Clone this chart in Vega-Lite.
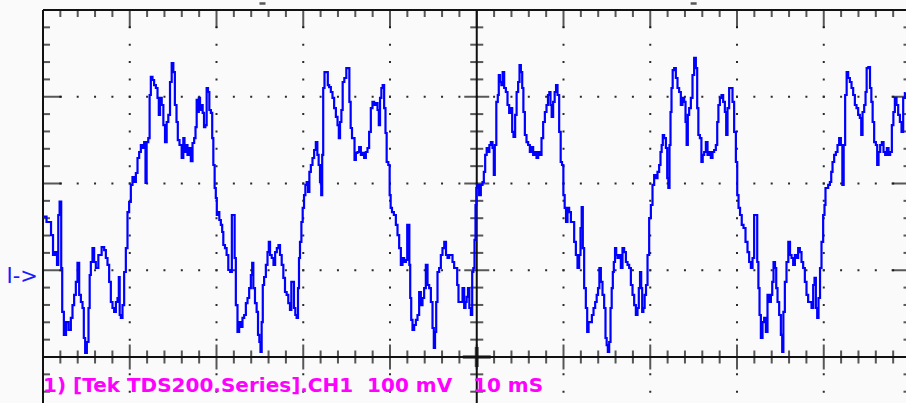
{
  "$schema": "https://vega.github.io/schema/vega-lite/v6.json",
  "width": 863,
  "height": 393,
  "autosize": "none",
  "padding": {"left": 43, "top": 10, "right": 0, "bottom": 0},
  "background": "#fafafa",
  "config": {"view": {"stroke": null}},
  "datasets": {
    "xmin": [{"t":2},{"t":4},{"t":6},{"t":8},{"t":12},{"t":14},{"t":16},{"t":18},{"t":22},{"t":24},{"t":26},{"t":28},{"t":32},{"t":34},{"t":36},{"t":38},{"t":42},{"t":44},{"t":46},{"t":48},{"t":52},{"t":54},{"t":56},{"t":58},{"t":62},{"t":64},{"t":66},{"t":68},{"t":72},{"t":74},{"t":76},{"t":78},{"t":82},{"t":84},{"t":86},{"t":88},{"t":92},{"t":94},{"t":96},{"t":98}],
    "xmaj": [{"t":10},{"t":20},{"t":30},{"t":40},{"t":50},{"t":60},{"t":70},{"t":80},{"t":90}],
    "ymin": [{"v":-40},{"v":-20},{"v":20},{"v":40},{"v":60},{"v":80},{"v":120},{"v":140},{"v":160},{"v":180},{"v":220},{"v":240},{"v":260},{"v":280},{"v":320},{"v":340},{"v":360},{"v":380}],
    "ymaj": [{"v":0},{"v":100},{"v":200},{"v":300}],
    "vgrid": [{"t":10},{"t":20},{"t":30},{"t":40},{"t":60},{"t":70},{"t":80},{"t":90}],
    "hgrid": [{"v":100},{"v":200},{"v":300}],
    "vsolid": [{"t":0},{"t":50}],
    "hsolid": [{"v":0},{"v":400}],
    "center": [{"t":50,"v":0}],
    "trig": [{"t":25.3},{"t":75.0}],
    "label": [{"text":"1) [Tek TDS200.Series].CH1\u00a0\u00a0100 mV\u00a0\u00a0\u00a010 mS"}],
    "ref": [{"text":"I->"}],
    "wave": [
      {"t":0.0,"v":161.7},{"t":0.81,"v":155.6},{"t":1.04,"v":140.6},{"t":1.27,"v":117.6},{"t":1.50,"v":121.0},{"t":1.73,"v":106.1},{"t":1.79,"v":163.7},{"t":2.04,"v":179.0},{"t":2.16,"v":102.6},{"t":2.27,"v":51.9},{"t":2.54,"v":25.4},{"t":2.77,"v":40.3},{"t":3.11,"v":31.1},{"t":3.31,"v":45.0},{"t":3.49,"v":59.9},{"t":3.69,"v":71.5},{"t":3.88,"v":86.5},{"t":4.07,"v":108.4},{"t":4.27,"v":71.5},{"t":4.46,"v":63.4},{"t":4.65,"v":56.5},{"t":4.76,"v":21.9},{"t":4.96,"v":4.6},{"t":5.15,"v":17.3},{"t":5.34,"v":56.5},{"t":5.42,"v":94.5},{"t":5.61,"v":109.5},{"t":5.80,"v":125.6},{"t":5.99,"v":109.5},{"t":6.19,"v":102.6},{"t":6.57,"v":117.6},{"t":6.95,"v":126.8},{"t":7.15,"v":123.3},{"t":7.34,"v":114.1},{"t":7.53,"v":106.1},{"t":7.72,"v":86.5},{"t":7.92,"v":63.4},{"t":8.10,"v":56.5},{"t":8.30,"v":51.9},{"t":8.50,"v":63.4},{"t":8.68,"v":68.0},{"t":8.80,"v":92.2},{"t":8.88,"v":48.4},{"t":9.07,"v":45.0},{"t":9.26,"v":59.9},{"t":9.45,"v":98.0},{"t":9.65,"v":125.6},{"t":9.83,"v":167.1},{"t":10.03,"v":178.7},{"t":10.22,"v":198.3},{"t":10.41,"v":207.5},{"t":10.61,"v":201.7},{"t":10.80,"v":212.1},{"t":10.99,"v":229.4},{"t":11.18,"v":236.3},{"t":11.38,"v":244.4},{"t":11.56,"v":240.9},{"t":11.76,"v":247.8},{"t":11.87,"v":200.6},{"t":12.02,"v":247.8},{"t":12.25,"v":252.4},{"t":12.33,"v":302.0},{"t":12.53,"v":322.8},{"t":12.71,"v":319.3},{"t":12.91,"v":313.5},{"t":13.11,"v":310.1},{"t":13.29,"v":298.6},{"t":13.41,"v":279.0},{"t":13.57,"v":298.6},{"t":13.80,"v":290.5},{"t":13.95,"v":267.4},{"t":14.18,"v":247.8},{"t":14.33,"v":270.9},{"t":14.56,"v":279.0},{"t":14.72,"v":317.0},{"t":14.95,"v":338.9},{"t":15.10,"v":328.5},{"t":15.30,"v":290.5},{"t":15.48,"v":270.9},{"t":15.60,"v":250.1},{"t":15.87,"v":244.4},{"t":16.10,"v":229.4},{"t":16.25,"v":252.4},
      {"t":16.37,"v":236.3},{"t":16.56,"v":244.4},{"t":16.75,"v":232.9},{"t":16.94,"v":240.9},{"t":17.14,"v":225.9},{"t":17.33,"v":246.7},{"t":17.52,"v":252.4},{"t":17.64,"v":265.1},{"t":17.79,"v":296.3},{"t":17.90,"v":282.4},{"t":18.02,"v":298.6},{"t":18.18,"v":284.7},{"t":18.33,"v":290.5},{"t":18.48,"v":281.3},{"t":18.64,"v":265.1},{"t":18.79,"v":267.4},{"t":18.94,"v":310.1},{"t":19.10,"v":305.5},{"t":19.25,"v":284.7},{"t":19.45,"v":281.3},{"t":19.56,"v":252.4},{"t":19.71,"v":221.3},{"t":19.86,"v":194.8},{"t":19.98,"v":183.3},{"t":20.09,"v":163.7},{"t":20.25,"v":167.1},{"t":20.40,"v":157.9},{"t":20.60,"v":152.2},{"t":20.71,"v":144.1},{"t":20.86,"v":129.1},{"t":21.09,"v":125.6},{"t":21.24,"v":117.6},{"t":21.48,"v":100.3},{"t":21.67,"v":98.0},{"t":21.87,"v":163.7},{"t":22.05,"v":163.7},{"t":22.13,"v":114.1},{"t":22.33,"v":59.9},{"t":22.51,"v":28.8},{"t":22.71,"v":40.3},{"t":22.90,"v":34.6},{"t":23.09,"v":45.0},{"t":23.29,"v":48.4},{"t":23.48,"v":62.2},{"t":23.67,"v":68.0},{"t":23.86,"v":79.5},{"t":24.06,"v":94.5},{"t":24.17,"v":108.4},{"t":24.32,"v":79.5},{"t":24.55,"v":62.2},{"t":24.70,"v":51.9},{"t":24.87,"v":25.4},{"t":25.01,"v":17.3},{"t":25.13,"v":5.8},{"t":25.28,"v":40.3},{"t":25.39,"v":83.0},{"t":25.59,"v":92.2},{"t":25.79,"v":106.1},{"t":25.97,"v":121.0},{"t":26.09,"v":132.6},{"t":26.25,"v":117.6},{"t":26.48,"v":114.1},{"t":26.66,"v":106.1},{"t":26.86,"v":121.0},{"t":27.05,"v":125.6},{"t":27.24,"v":129.1},{"t":27.40,"v":117.6},{"t":27.63,"v":106.1},{"t":27.78,"v":91.1},{"t":28.01,"v":74.9},{"t":28.16,"v":71.5},{"t":28.39,"v":62.2},{"t":28.55,"v":54.2},{"t":28.70,"v":86.5},{"t":28.85,"v":86.5},{"t":29.01,"v":56.5},{"t":29.16,"v":48.4},{"t":29.31,"v":45.0},{"t":29.48,"v":79.5},{"t":29.54,"v":114.1},{"t":29.71,"v":132.6},{"t":29.86,"v":155.6},{"t":30.01,"v":171.8},{"t":30.17,"v":186.7},{"t":30.32,"v":198.3},{"t":30.47,"v":201.7},{"t":30.63,"v":190.2},{"t":30.78,"v":213.3},{"t":30.97,"v":221.3},{"t":31.16,"v":229.4},{"t":31.35,"v":238.6},{"t":31.55,"v":247.8},{"t":31.70,"v":232.9},{"t":31.85,"v":221.3},{"t":32.01,"v":201.7},{"t":32.13,"v":186.7},{"t":32.24,"v":232.9},{"t":32.36,"v":310.1},
      {"t":32.54,"v":328.5},{"t":32.77,"v":328.5},{"t":32.89,"v":313.5},{"t":33.08,"v":311.2},{"t":33.28,"v":305.5},{"t":33.46,"v":298.6},{"t":33.66,"v":287.0},{"t":33.86,"v":276.7},{"t":34.04,"v":267.4},{"t":34.16,"v":252.4},{"t":34.32,"v":270.9},{"t":34.47,"v":284.7},{"t":34.62,"v":317.0},{"t":34.85,"v":321.6},{"t":35.08,"v":333.1},{"t":35.24,"v":333.1},{"t":35.39,"v":294.0},{"t":35.54,"v":264.0},{"t":35.70,"v":252.4},{"t":35.85,"v":252.4},{"t":35.97,"v":227.1},{"t":36.16,"v":235.2},{"t":36.35,"v":236.3},{"t":36.54,"v":242.1},{"t":36.74,"v":232.9},{"t":36.92,"v":235.2},{"t":37.12,"v":229.4},{"t":37.31,"v":236.3},{"t":37.50,"v":240.9},{"t":37.69,"v":259.4},{"t":37.89,"v":287.0},{"t":38.07,"v":294.0},{"t":38.27,"v":290.5},{"t":38.47,"v":292.8},{"t":38.65,"v":284.7},{"t":38.77,"v":267.4},{"t":38.93,"v":298.6},{"t":39.08,"v":310.1},{"t":39.23,"v":313.5},{"t":39.42,"v":287.0},{"t":39.54,"v":258.2},{"t":39.69,"v":224.8},{"t":39.92,"v":221.3},{"t":40.00,"v":186.7},{"t":40.15,"v":171.8},{"t":40.31,"v":167.1},{"t":40.58,"v":163.7},{"t":40.77,"v":152.2},{"t":40.96,"v":140.6},{"t":41.15,"v":125.6},{"t":41.35,"v":106.1},{"t":41.53,"v":114.1},{"t":41.73,"v":109.5},{"t":41.93,"v":111.8},{"t":42.04,"v":152.2},{"t":42.19,"v":152.2},{"t":42.27,"v":106.1},{"t":42.39,"v":68.0},{"t":42.50,"v":42.7},{"t":42.69,"v":31.1},{"t":42.88,"v":36.9},{"t":43.08,"v":42.7},{"t":43.26,"v":48.4},{"t":43.46,"v":74.9},{"t":43.65,"v":59.9},{"t":43.84,"v":68.0},{"t":44.03,"v":79.5},{"t":44.23,"v":106.1},{"t":44.42,"v":83.0},{"t":44.61,"v":79.5},{"t":44.81,"v":63.4},{"t":44.99,"v":33.4},{"t":45.11,"v":10.4},{"t":45.27,"v":28.8},{"t":45.38,"v":63.4},{"t":45.57,"v":98.0},{"t":45.76,"v":102.6},{"t":45.96,"v":117.6},{"t":46.14,"v":125.6},{"t":46.37,"v":132.6},{"t":46.54,"v":117.6},{"t":46.72,"v":114.1},{"t":46.92,"v":117.6},{"t":47.11,"v":117.6},{"t":47.30,"v":109.5},{"t":47.49,"v":102.6},{"t":47.69,"v":102.6},{"t":47.80,"v":83.0},{"t":47.99,"v":63.4},{"t":48.27,"v":63.4},{"t":48.45,"v":79.5},{"t":48.65,"v":56.5},
      {"t":48.76,"v":63.4},{"t":48.91,"v":69.2},{"t":49.07,"v":79.5},{"t":49.22,"v":56.5},{"t":49.42,"v":48.4},{"t":49.53,"v":98.0},{"t":49.68,"v":102.6},{"t":49.80,"v":134.9},{"t":49.91,"v":175.2},{"t":49.99,"v":194.8},{"t":50.18,"v":198.3},{"t":50.37,"v":186.7},{"t":50.57,"v":198.3},{"t":50.76,"v":201.7},{"t":50.87,"v":213.3},{"t":51.07,"v":232.9},{"t":51.22,"v":240.9},{"t":51.38,"v":236.3},{"t":51.53,"v":244.4},{"t":51.72,"v":247.8},{"t":51.91,"v":240.9},{"t":52.02,"v":209.8},{"t":52.14,"v":244.4},{"t":52.37,"v":294.0},{"t":52.48,"v":302.0},{"t":52.60,"v":325.1},{"t":52.76,"v":317.0},{"t":52.91,"v":313.5},{"t":53.06,"v":328.5},{"t":53.26,"v":310.1},{"t":53.45,"v":305.5},{"t":53.64,"v":290.5},{"t":53.83,"v":281.3},{"t":54.03,"v":287.0},{"t":54.14,"v":259.4},{"t":54.33,"v":253.6},{"t":54.52,"v":279.0},{"t":54.67,"v":305.5},{"t":54.87,"v":317.0},{"t":54.99,"v":336.6},{"t":55.18,"v":328.5},{"t":55.30,"v":310.1},{"t":55.45,"v":282.4},{"t":55.64,"v":255.9},{"t":55.83,"v":247.8},{"t":56.02,"v":244.4},{"t":56.22,"v":236.3},{"t":56.40,"v":242.1},{"t":56.60,"v":232.9},{"t":56.80,"v":236.3},{"t":56.98,"v":229.4},{"t":57.18,"v":236.3},{"t":57.37,"v":232.9},{"t":57.56,"v":252.4},{"t":57.75,"v":270.9},{"t":57.95,"v":282.4},{"t":58.13,"v":290.5},{"t":58.29,"v":302.0},{"t":58.44,"v":305.5},{"t":58.56,"v":290.5},{"t":58.71,"v":276.7},{"t":58.90,"v":294.0},{"t":59.06,"v":305.5},{"t":59.22,"v":313.5},{"t":59.40,"v":302.0},{"t":59.60,"v":259.4},{"t":59.75,"v":224.8},{"t":59.91,"v":221.3},{"t":60.06,"v":186.7},{"t":60.21,"v":171.8},{"t":60.37,"v":155.6},{"t":60.55,"v":171.8},{"t":60.75,"v":167.1},{"t":60.95,"v":155.6},{"t":61.13,"v":155.6},{"t":61.33,"v":132.6},{"t":61.52,"v":117.6},{"t":61.71,"v":102.6},{"t":61.90,"v":117.6},{"t":62.02,"v":148.7},{"t":62.17,"v":172.9},{"t":62.28,"v":125.6},{"t":62.48,"v":79.5},{"t":62.67,"v":56.5},{"t":62.79,"v":28.8},{"t":62.98,"v":40.3},{"t":63.17,"v":40.3},{"t":63.37,"v":48.4},{"t":63.55,"v":56.5},{"t":63.75,"v":63.4},{"t":63.90,"v":71.5},{"t":64.06,"v":79.5},{"t":64.21,"v":102.6},{"t":64.40,"v":86.5},{"t":64.59,"v":71.5},{"t":64.78,"v":56.5},
      {"t":64.90,"v":21.9},{"t":65.05,"v":13.8},{"t":65.17,"v":5.8},{"t":65.36,"v":17.3},{"t":65.48,"v":56.5},{"t":65.63,"v":79.5},{"t":65.74,"v":98.0},{"t":65.86,"v":109.5},{"t":66.02,"v":125.6},{"t":66.13,"v":117.6},{"t":66.32,"v":114.1},{"t":66.51,"v":117.6},{"t":66.71,"v":102.6},{"t":66.89,"v":125.6},{"t":67.09,"v":121.0},{"t":67.29,"v":109.5},{"t":67.47,"v":106.1},{"t":67.67,"v":102.6},{"t":67.86,"v":83.0},{"t":68.05,"v":71.5},{"t":68.24,"v":59.9},{"t":68.44,"v":48.4},{"t":68.62,"v":56.5},{"t":68.74,"v":79.5},{"t":68.90,"v":98.0},{"t":69.01,"v":79.5},{"t":69.13,"v":51.9},{"t":69.28,"v":56.5},{"t":69.43,"v":71.5},{"t":69.59,"v":83.0},{"t":69.78,"v":117.6},{"t":69.97,"v":160.2},{"t":70.17,"v":175.2},{"t":70.35,"v":198.3},{"t":70.55,"v":209.8},{"t":70.74,"v":206.3},{"t":70.93,"v":213.3},{"t":71.12,"v":221.3},{"t":71.24,"v":236.3},{"t":71.39,"v":244.4},{"t":71.50,"v":255.9},{"t":71.70,"v":252.4},{"t":71.90,"v":240.9},{"t":72.01,"v":206.3},{"t":72.16,"v":194.8},{"t":72.28,"v":244.4},{"t":72.39,"v":282.4},{"t":72.51,"v":310.1},{"t":72.66,"v":330.8},{"t":72.85,"v":333.1},{"t":73.05,"v":321.6},{"t":73.23,"v":310.1},{"t":73.43,"v":305.5},{"t":73.62,"v":290.5},{"t":73.81,"v":298.6},{"t":74.01,"v":294.0},{"t":74.12,"v":270.9},{"t":74.27,"v":244.4},{"t":74.39,"v":279.0},{"t":74.58,"v":287.0},{"t":74.78,"v":298.6},{"t":74.96,"v":325.1},{"t":75.16,"v":344.7},{"t":75.35,"v":333.1},{"t":75.47,"v":287.0},{"t":75.62,"v":255.9},{"t":75.82,"v":252.4},{"t":75.97,"v":224.8},{"t":76.12,"v":232.9},{"t":76.31,"v":236.3},{"t":76.51,"v":247.8},{"t":76.69,"v":232.9},{"t":76.89,"v":236.3},{"t":77.08,"v":229.4},{"t":77.27,"v":236.3},{"t":77.46,"v":238.6},{"t":77.66,"v":244.4},{"t":77.78,"v":270.9},{"t":77.93,"v":290.5},{"t":78.12,"v":298.6},{"t":78.31,"v":302.0},{"t":78.50,"v":294.0},{"t":78.70,"v":282.4},{"t":78.81,"v":255.9},{"t":79.00,"v":287.0},{"t":79.19,"v":310.1},{"t":79.39,"v":310.1},{"t":79.57,"v":294.0},{"t":79.77,"v":259.4},{"t":79.97,"v":224.8},{"t":80.08,"v":186.7},{"t":80.27,"v":171.8},{"t":80.43,"v":163.7},{"t":80.66,"v":152.2},{"t":80.84,"v":148.7},
      {"t":81.12,"v":132.6},{"t":81.30,"v":121.0},{"t":81.50,"v":109.5},{"t":81.70,"v":102.6},{"t":81.88,"v":114.1},{"t":82.07,"v":163.7},{"t":82.27,"v":163.7},{"t":82.39,"v":109.5},{"t":82.54,"v":79.5},{"t":82.65,"v":48.4},{"t":82.85,"v":21.9},{"t":83.03,"v":40.3},{"t":83.23,"v":45.0},{"t":83.42,"v":28.8},{"t":83.61,"v":71.5},{"t":83.81,"v":63.4},{"t":84.00,"v":71.5},{"t":84.12,"v":86.5},{"t":84.30,"v":109.5},{"t":84.46,"v":102.6},{"t":84.58,"v":79.5},{"t":84.76,"v":63.4},{"t":84.96,"v":48.4},{"t":85.15,"v":25.4},{"t":85.27,"v":5.8},{"t":85.42,"v":51.9},{"t":85.61,"v":86.5},{"t":85.80,"v":109.5},{"t":86.03,"v":132.6},{"t":86.19,"v":117.6},{"t":86.38,"v":114.1},{"t":86.57,"v":106.1},{"t":86.77,"v":117.6},{"t":86.95,"v":114.1},{"t":87.15,"v":125.6},{"t":87.34,"v":121.0},{"t":87.53,"v":109.5},{"t":87.72,"v":102.6},{"t":87.92,"v":86.5},{"t":88.10,"v":71.5},{"t":88.30,"v":63.4},{"t":88.50,"v":63.4},{"t":88.68,"v":56.5},{"t":88.88,"v":83.0},{"t":88.99,"v":91.1},{"t":89.19,"v":56.5},{"t":89.30,"v":45.0},{"t":89.49,"v":68.0},{"t":89.65,"v":102.6},{"t":89.83,"v":132.6},{"t":90.03,"v":163.7},{"t":90.14,"v":175.2},{"t":90.26,"v":194.8},{"t":90.41,"v":194.8},{"t":90.61,"v":198.3},{"t":90.80,"v":201.7},{"t":90.92,"v":213.3},{"t":91.10,"v":224.8},{"t":91.30,"v":232.9},{"t":91.49,"v":236.3},{"t":91.68,"v":244.4},{"t":91.87,"v":252.4},{"t":92.07,"v":244.4},{"t":92.22,"v":198.3},{"t":92.37,"v":244.4},{"t":92.56,"v":302.0},{"t":92.72,"v":328.5},{"t":92.91,"v":321.6},{"t":93.11,"v":317.0},{"t":93.29,"v":310.1},{"t":93.49,"v":302.0},{"t":93.68,"v":290.5},{"t":93.87,"v":287.0},{"t":94.06,"v":279.0},{"t":94.26,"v":275.5},{"t":94.38,"v":255.9},{"t":94.56,"v":282.4},{"t":94.76,"v":290.5},{"t":94.87,"v":305.5},{"t":95.02,"v":333.1},{"t":95.25,"v":334.3},{"t":95.41,"v":310.1},{"t":95.56,"v":294.0},{"t":95.71,"v":270.9},{"t":95.91,"v":247.8},{"t":96.10,"v":244.4},{"t":96.22,"v":221.3},{"t":96.41,"v":236.3},{"t":96.60,"v":244.4},{"t":96.80,"v":247.8},{"t":96.98,"v":236.3},{"t":97.18,"v":232.9},{"t":97.37,"v":240.9},{"t":97.56,"v":232.9},{"t":97.75,"v":236.3},{"t":97.95,"v":267.4},{"t":98.10,"v":282.4},{"t":98.29,"v":298.6},{"t":98.48,"v":290.5},{"t":98.68,"v":279.0},{"t":98.87,"v":270.9},{"t":99.06,"v":259.4},{"t":99.25,"v":298.6},{"t":99.45,"v":304.3}
    ]
  },
  "layer": [
    {"data": {"name": "vgrid"}, "mark": {"type": "rule", "strokeDash": [2, 15.35], "strokeDashOffset": 1, "strokeWidth": 2, "color": "#2a2a2a"},
     "encoding": {"x": {"field": "t", "type": "quantitative", "scale": {"domain": [0, 99.48], "nice": false, "zero": false}, "axis": null},
                  "y": {"datum": 400, "type": "quantitative", "scale": {"domain": [-53.03, 400], "nice": false, "zero": false}, "axis": null},
                  "y2": {"datum": -60}}},
    {"data": {"name": "hgrid"}, "mark": {"type": "rule", "strokeDash": [2, 15.35], "strokeDashOffset": 1, "strokeWidth": 2, "color": "#2a2a2a"},
     "encoding": {"x": {"datum": 0, "type": "quantitative", "scale": {"domain": [0, 99.48], "nice": false, "zero": false}, "axis": null},
                  "x2": {"datum": 100},
                  "y": {"field": "v", "type": "quantitative", "scale": {"domain": [-53.03, 400], "nice": false, "zero": false}, "axis": null}}},
    {"data": {"name": "vsolid"}, "mark": {"type": "rule", "strokeWidth": 2, "color": "#111111"},
     "encoding": {"x": {"field": "t", "type": "quantitative", "scale": {"domain": [0, 99.48], "nice": false, "zero": false}, "axis": null},
                  "y": {"datum": 400, "type": "quantitative", "scale": {"domain": [-53.03, 400], "nice": false, "zero": false}, "axis": null},
                  "y2": {"datum": -60}}},
    {"data": {"name": "hsolid"}, "mark": {"type": "rule", "strokeWidth": 2, "color": "#111111"},
     "encoding": {"x": {"datum": 0, "type": "quantitative", "scale": {"domain": [0, 99.48], "nice": false, "zero": false}, "axis": null},
                  "x2": {"datum": 100},
                  "y": {"field": "v", "type": "quantitative", "scale": {"domain": [-53.03, 400], "nice": false, "zero": false}, "axis": null}}},
    {"data": {"name": "xmin"}, "mark": {"type": "tick", "orient": "vertical", "size": 14, "thickness": 2, "color": "#111111", "clip": true},
     "encoding": {"x": {"field": "t", "type": "quantitative", "scale": {"domain": [0, 99.48], "nice": false, "zero": false}, "axis": null},
                  "y": {"datum": 400, "type": "quantitative", "scale": {"domain": [-53.03, 400], "nice": false, "zero": false}, "axis": null}}},
    {"data": {"name": "xmaj"}, "mark": {"type": "tick", "orient": "vertical", "size": 36, "thickness": 2, "color": "#111111", "clip": true},
     "encoding": {"x": {"field": "t", "type": "quantitative", "scale": {"domain": [0, 99.48], "nice": false, "zero": false}, "axis": null},
                  "y": {"datum": 400, "type": "quantitative", "scale": {"domain": [-53.03, 400], "nice": false, "zero": false}, "axis": null}}},
    {"data": {"name": "xmin"}, "mark": {"type": "tick", "orient": "vertical", "size": 13, "thickness": 2, "color": "#111111"},
     "encoding": {"x": {"field": "t", "type": "quantitative", "scale": {"domain": [0, 99.48], "nice": false, "zero": false}, "axis": null},
                  "y": {"datum": 0, "type": "quantitative", "scale": {"domain": [-53.03, 400], "nice": false, "zero": false}, "axis": null}}},
    {"data": {"name": "xmaj"}, "mark": {"type": "tick", "orient": "vertical", "size": 25, "thickness": 2, "color": "#111111"},
     "encoding": {"x": {"field": "t", "type": "quantitative", "scale": {"domain": [0, 99.48], "nice": false, "zero": false}, "axis": null},
                  "y": {"datum": 0, "type": "quantitative", "scale": {"domain": [-53.03, 400], "nice": false, "zero": false}, "axis": null}}},
    {"data": {"name": "ymin"}, "mark": {"type": "tick", "orient": "horizontal", "size": 14, "thickness": 2, "color": "#111111", "clip": true},
     "encoding": {"x": {"datum": 0, "type": "quantitative", "scale": {"domain": [0, 99.48], "nice": false, "zero": false}, "axis": null},
                  "y": {"field": "v", "type": "quantitative", "scale": {"domain": [-53.03, 400], "nice": false, "zero": false}, "axis": null}}},
    {"data": {"name": "ymaj"}, "mark": {"type": "tick", "orient": "horizontal", "size": 38, "thickness": 2, "color": "#111111", "clip": true},
     "encoding": {"x": {"datum": 0, "type": "quantitative", "scale": {"domain": [0, 99.48], "nice": false, "zero": false}, "axis": null},
                  "y": {"field": "v", "type": "quantitative", "scale": {"domain": [-53.03, 400], "nice": false, "zero": false}, "axis": null}}},
    {"data": {"name": "ymin"}, "mark": {"type": "tick", "orient": "horizontal", "size": 13, "thickness": 2, "color": "#111111", "clip": true},
     "encoding": {"x": {"datum": 50, "type": "quantitative", "scale": {"domain": [0, 99.48], "nice": false, "zero": false}, "axis": null},
                  "y": {"field": "v", "type": "quantitative", "scale": {"domain": [-53.03, 400], "nice": false, "zero": false}, "axis": null}}},
    {"data": {"name": "ymaj"}, "mark": {"type": "tick", "orient": "horizontal", "size": 25, "thickness": 2, "color": "#111111", "clip": true},
     "encoding": {"x": {"datum": 50, "type": "quantitative", "scale": {"domain": [0, 99.48], "nice": false, "zero": false}, "axis": null},
                  "y": {"field": "v", "type": "quantitative", "scale": {"domain": [-53.03, 400], "nice": false, "zero": false}, "axis": null}}},
    {"data": {"name": "ymin"}, "mark": {"type": "tick", "orient": "horizontal", "size": 14, "thickness": 2, "color": "#111111", "clip": true},
     "encoding": {"x": {"datum": 100, "type": "quantitative", "scale": {"domain": [0, 99.48], "nice": false, "zero": false}, "axis": null},
                  "y": {"field": "v", "type": "quantitative", "scale": {"domain": [-53.03, 400], "nice": false, "zero": false}, "axis": null}}},
    {"data": {"name": "ymaj"}, "mark": {"type": "tick", "orient": "horizontal", "size": 38, "thickness": 2, "color": "#111111", "clip": true},
     "encoding": {"x": {"datum": 100, "type": "quantitative", "scale": {"domain": [0, 99.48], "nice": false, "zero": false}, "axis": null},
                  "y": {"field": "v", "type": "quantitative", "scale": {"domain": [-53.03, 400], "nice": false, "zero": false}, "axis": null}}},
    {"data": {"name": "center"}, "mark": {"type": "tick", "orient": "vertical", "size": 20, "thickness": 4, "color": "#111111"},
     "encoding": {"x": {"field": "t", "type": "quantitative", "scale": {"domain": [0, 99.48], "nice": false, "zero": false}, "axis": null},
                  "y": {"field": "v", "type": "quantitative", "scale": {"domain": [-53.03, 400], "nice": false, "zero": false}, "axis": null}}},
    {"data": {"name": "center"}, "mark": {"type": "tick", "orient": "horizontal", "size": 28, "thickness": 3.5, "color": "#111111"},
     "encoding": {"x": {"field": "t", "type": "quantitative", "scale": {"domain": [0, 99.48], "nice": false, "zero": false}, "axis": null},
                  "y": {"field": "v", "type": "quantitative", "scale": {"domain": [-53.03, 400], "nice": false, "zero": false}, "axis": null}}},
    {"data": {"name": "wave"}, "mark": {"type": "line", "color": "#0000ff", "strokeWidth": 2.2, "interpolate": "step"},
     "encoding": {"x": {"field": "t", "type": "quantitative", "scale": {"domain": [0, 99.48], "nice": false, "zero": false}, "axis": null},
                  "y": {"field": "v", "type": "quantitative", "scale": {"domain": [-53.03, 400], "nice": false, "zero": false}, "axis": null}}},
    {"data": {"name": "label"}, "mark": {"type": "text", "align": "left", "baseline": "alphabetic", "font": "DejaVu Sans", "fontWeight": "bold", "fontSize": 20, "color": "#ff00ff"},
     "encoding": {"x": {"datum": 0, "type": "quantitative", "scale": {"domain": [0, 99.48], "nice": false, "zero": false}, "axis": null},
                  "y": {"datum": -40, "type": "quantitative", "scale": {"domain": [-53.03, 400], "nice": false, "zero": false}, "axis": null},
                  "text": {"field": "text"}}},
    {"data": {"name": "ref"}, "mark": {"type": "text", "align": "left", "baseline": "alphabetic", "font": "DejaVu Sans", "fontSize": 21, "color": "#1a1aff"},
     "encoding": {"x": {"datum": -4.2, "type": "quantitative", "scale": {"domain": [0, 99.48], "nice": false, "zero": false}, "axis": null},
                  "y": {"datum": 85.5, "type": "quantitative", "scale": {"domain": [-53.03, 400], "nice": false, "zero": false}, "axis": null},
                  "text": {"field": "text"}}},
    {"data": {"name": "trig"}, "mark": {"type": "tick", "orient": "horizontal", "size": 6, "thickness": 2.5, "color": "#111111"},
     "encoding": {"x": {"field": "t", "type": "quantitative", "scale": {"domain": [0, 99.48], "nice": false, "zero": false}, "axis": null},
                  "y": {"datum": 407.5, "type": "quantitative", "scale": {"domain": [-53.03, 400], "nice": false, "zero": false}, "axis": null}}}
  ]
}
